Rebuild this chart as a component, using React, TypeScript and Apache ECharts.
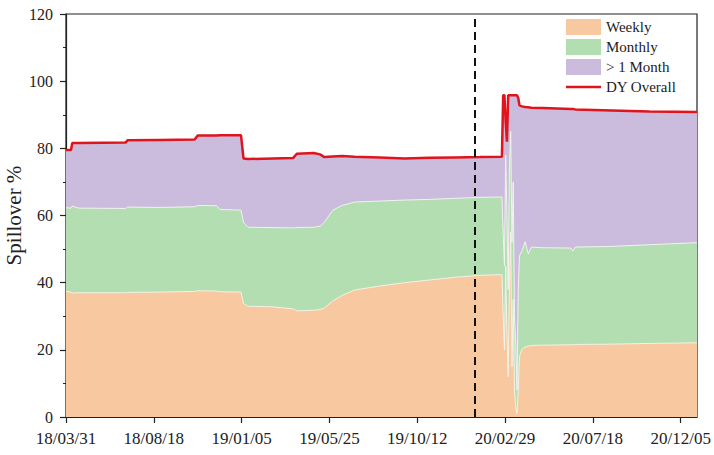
import React, { useEffect, useRef } from "react";
import * as echarts from "echarts";

// Start date of the day axis (day 0)
const START_DATE = Date.UTC(2018, 2, 31);

// Days since 2018-03-31
const days = [
  0, 8, 10, 20, 95, 98, 150, 205, 210, 240, 246, 279, 283, 290, 330, 362, 368, 395, 405, 412, 425, 440,
  460, 500, 540, 580, 620, 660, 695, 697, 699, 701, 703, 705, 707, 709, 711, 713, 715, 717, 719, 721,
  723, 727, 732, 737, 742, 760, 805, 808, 812, 870, 930, 1006,
];

// Upper edge of the Weekly band
const weeklyTop = [
  37.4, 37.2, 36.9, 37.0, 37.0, 37.1, 37.2, 37.4, 37.6, 37.5, 37.3, 37.2, 33.8, 33.0, 32.8, 32.2, 31.6,
  31.8, 32.0, 32.5, 34.5, 36.2, 37.8, 39.0, 40.0, 40.8, 41.6, 42.2, 42.4, 30, 20, 45, 25, 12, 40, 55,
  15, 35, 8, 3, 1, 8, 18, 20.2, 20.8, 21.1, 21.3, 21.4, 21.5, 21.5, 21.6, 21.7, 21.9, 22.1,
];

// Upper edge of the Monthly band
const monthlyTop = [
  62.3, 62.2, 62.8, 62.2, 62.1, 62.5, 62.4, 62.6, 63.0, 62.9, 61.8, 61.6, 58.0, 56.5, 56.4, 56.3, 56.4,
  56.5, 56.8, 58.0, 61.5, 63.0, 64.0, 64.3, 64.6, 64.8, 65.1, 65.4, 65.5, 55, 45, 78, 60, 38, 75, 85,
  52, 70, 30, 22, 8, 38, 48, 49.5, 52.2, 48.6, 50.6, 50.4, 50.3, 49.4, 50.6, 50.8, 51.3, 51.9,
];

// DY overall spillover (upper edge of the > 1 Month band)
const dyOverall = [
  79.5, 79.5, 81.6, 81.6, 81.7, 82.4, 82.5, 82.6, 83.8, 83.8, 83.9, 83.9, 77.0, 76.8, 77.0, 77.1, 78.4,
  78.6, 78.2, 77.4, 77.6, 77.7, 77.5, 77.3, 77.0, 77.2, 77.3, 77.4, 77.5, 95.8, 95.8, 88, 82, 95.8,
  95.8, 95.8, 95.8, 95.8, 95.8, 95.8, 95.8, 95.0, 92.8, 92.5, 92.3, 92.2, 92.1, 92.0, 91.7, 91.7, 91.6,
  91.3, 91.0, 90.8,
];

// x-axis tick positions (days) and the event marker
const xTickDays = [0, 140, 280, 420, 560, 700, 840, 980];
const eventDays = [652];

const FONT = '"Liberation Serif", "Times New Roman", serif';

// legend icon: a thin horizontal bar inside an invisible 35x16 box
const LINE_ICON =
  "path://M0,0 L35,0 L35,0.01 Z M0,6.8 L35,6.8 L35,9.2 L0,9.2 Z M0,16 L35,16 L35,15.99 Z";

function fmtDay(d: number): string {
  const dt = new Date(START_DATE + Math.round(d) * 86400000);
  const p = (n: number) => String(n).padStart(2, "0");
  return `${p(dt.getUTCFullYear() % 100)}/${p(dt.getUTCMonth() + 1)}/${p(dt.getUTCDate())}`;
}

export default function App() {
  const ref = useRef<HTMLDivElement>(null);
  useEffect(() => {
    if (!ref.current) return;
    const chart = echarts.init(ref.current, undefined, { renderer: "svg" });
    const pairs = (vals: number[]) => days.map((d, i) => [d, vals[i]]);
    const areaBase = {
      type: "line",
      symbol: "none",
      showSymbol: false,
      silent: true,
      emphasis: { disabled: true },
    };
    chart.setOption({
      animation: false,
      textStyle: { fontFamily: FONT },
      grid: {
        left: 66,
        right: 17,
        top: 14,
        bottom: 38,
        containLabel: false,
        outerBoundsMode: "none",
        show: true,
        borderColor: "#222",
        borderWidth: 1.2,
        backgroundColor: "transparent",
      },
      legend: {
        orient: "vertical",
        left: 566,
        top: 19,
        padding: 0,
        itemWidth: 35,
        itemHeight: 16,
        itemGap: 4,
        textStyle: { fontFamily: FONT, fontSize: 15, color: "#222" },
        itemStyle: { borderWidth: 0 },
        selectedMode: false,
        data: [
          { name: "Weekly", icon: "rect" },
          { name: "Monthly", icon: "rect" },
          { name: "> 1 Month", icon: "rect" },
          { name: "DY Overall", icon: LINE_ICON, itemStyle: { color: "#E0141C", borderWidth: 0 } },
        ],
      },
      xAxis: {
        type: "value",
        min: 0,
        max: 1006,
        splitLine: { show: false },
        axisLine: { lineStyle: { color: "#222", width: 1.2 } },
        axisTick: {
          customValues: xTickDays,
          length: 6,
          inside: false,
          lineStyle: { color: "#222", width: 1.2 },
        },
        axisLabel: {
          customValues: xTickDays,
          formatter: (v: number) => fmtDay(v),
          fontFamily: FONT,
          fontSize: 17,
          color: "#222",
          margin: 13,
          hideOverlap: false,
        },
      },
      yAxis: {
        type: "value",
        min: 0,
        max: 120,
        interval: 20,
        name: "Spillover %",
        nameLocation: "middle",
        nameGap: 42,
        nameMoveOverlap: false,
        nameTextStyle: { fontFamily: FONT, fontSize: 21, color: "#222" },
        splitLine: { show: false },
        axisLine: { show: true, lineStyle: { color: "#222", width: 1.2 } },
        axisTick: { show: true, length: 6, lineStyle: { color: "#222", width: 1.2 } },
        minorTick: { show: true, splitNumber: 2, length: 3, lineStyle: { color: "#222", width: 1 } },
        axisLabel: {
          fontFamily: FONT,
          fontSize: 16,
          color: "#222",
          margin: 13,
        },
      },
      series: [
        {
          ...areaBase,
          name: "> 1 Month",
          color: "#CBBCDE",
          data: pairs(dyOverall),
          lineStyle: { width: 0 },
          areaStyle: { color: "#CBBCDE", opacity: 1 },
          z: 1,
        },
        {
          ...areaBase,
          name: "Monthly",
          color: "#B2DEB1",
          data: pairs(monthlyTop),
          lineStyle: { width: 1, color: "#f2f2ee" },
          areaStyle: { color: "#B2DEB1", opacity: 1 },
          z: 2,
        },
        {
          ...areaBase,
          name: "Weekly",
          color: "#F8C9A0",
          data: pairs(weeklyTop),
          lineStyle: { width: 1, color: "#f4f1e6" },
          areaStyle: { color: "#F8C9A0", opacity: 1 },
          z: 3,
        },
        {
          ...areaBase,
          name: "DY Overall",
          color: "#E0141C",
          data: pairs(dyOverall),
          lineStyle: { width: 2.5, color: "#E0141C" },
          z: 4,
          markLine: {
            silent: true,
            symbol: "none",
            label: { show: false },
            lineStyle: { type: [8, 5], color: "#111", width: 2 },
            data: eventDays.map((d) => ({ xAxis: d })),
          },
        },
      ],
    });
    return () => chart.dispose();
  }, []);
  return (
    <div
      ref={ref}
      style={{ position: "absolute", left: 0, top: 0, width: 714, height: 455, background: "#fff" }}
    />
  );
}
